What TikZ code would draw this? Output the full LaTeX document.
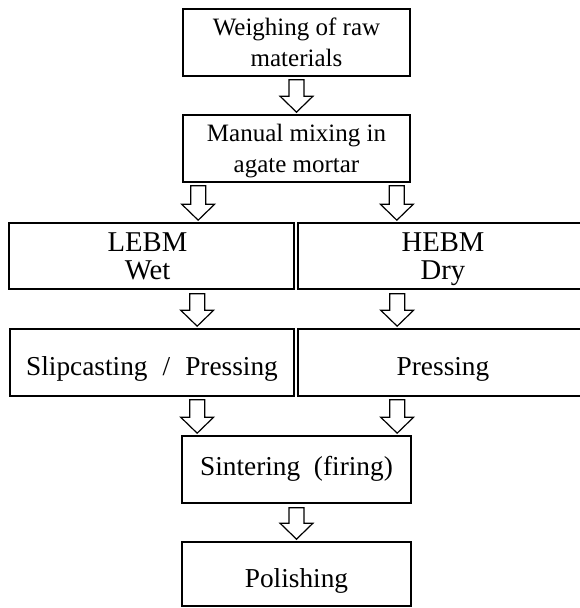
\documentclass[tikz,border=0pt]{standalone}
\usepackage{fontspec}
\setmainfont{Liberation Serif}
\usetikzlibrary{calc}
\tikzset{
  box/.style={draw, line width=1.25pt, inner sep=0pt, align=center},
  size/.style 2 args={minimum width={#1*0.75pt}, minimum height={#2*0.75pt}},
  topfont/.style={font=\fontsize{18.75pt}{23.25pt}\selectfont, text depth=0pt},
  midfont/.style={font=\fontsize{21.5pt}{20.75pt}\selectfont, text depth=0pt},
  bigfont/.style={font=\fontsize{20.5pt}{24pt}\selectfont},
  base/.style={text height={#1*1.5pt}, text depth=0pt},
  barr/.style={draw, line width=0.9pt, fill=white, line join=miter},
}
\newcommand\barrow[2]{%
  \path ($#1$) coordinate (s) ($(s |- #2)+(0,-2)$) coordinate (t);
  \draw[barr] ($(s)+(-7.5,0)$) -- ($(t)+(-7.5,-16)$) -- ($(t)+(-16.5,-16)$) -- (t)
    -- ($(t)+(16.5,-16)$) -- ($(t)+(7.5,-16)$) -- ($(s)+(7.5,0)$) -- cycle;}
\begin{document}
\begin{tikzpicture}[x=0.75pt,y=-0.75pt]
\useasboundingbox (0,0) rectangle (580,608);
\clip (0,0) rectangle (580,608);
\fill[white] (0,0) rectangle (580,608);
\node[box, topfont, size={227}{67}] (b1) at (296.5,42.5) {Weighing of raw\\materials};
\node[box, topfont, size={227}{67}] (b2) at (296.5,148.5) {Manual mixing in\\agate mortar};
\node[box, midfont, size={285}{66}] (b3l) at (151.5,256) {LEBM\kern6pt\\Wet\kern6pt};
\node[box, midfont, size={290}{66}] (b3r) at (443,256) {HEBM\\Dry};
\node[box, bigfont, size={284}{67}, base=12.5] (b4l) at (152,362.5) {Slipcasting\hspace{0.3em} / \hspace{0.3em}Pressing};
\node[box, bigfont, size={290}{67}, base=12.5] (b4r) at (443,362.5) {Pressing};
\node[box, bigfont, size={229}{67}, base=5.5] (b5) at (296.5,469.5) {Sintering\hspace{0.25em} (firing)};
\node[box, bigfont, size={229}{64}, base=13] (b6) at (296.5,574) {Polishing};
\barrow{(b1.south)+(0,3)}{b2.north}
\barrow{(b2.south west)+(16,3)}{b3l.north}
\barrow{(b2.south east)+(-14,3)}{b3r.north}
\barrow{(b3l.south west)+(189,4)}{b4l.north}
\barrow{(b3r.south west)+(100,4)}{b4r.north}
\barrow{(b4l.south west)+(188,3)}{b5.north}
\barrow{(b4r.south west)+(100,3)}{b5.north}
\barrow{(b5.south)+(0,4)}{b6.north}
\end{tikzpicture}
\end{document}
